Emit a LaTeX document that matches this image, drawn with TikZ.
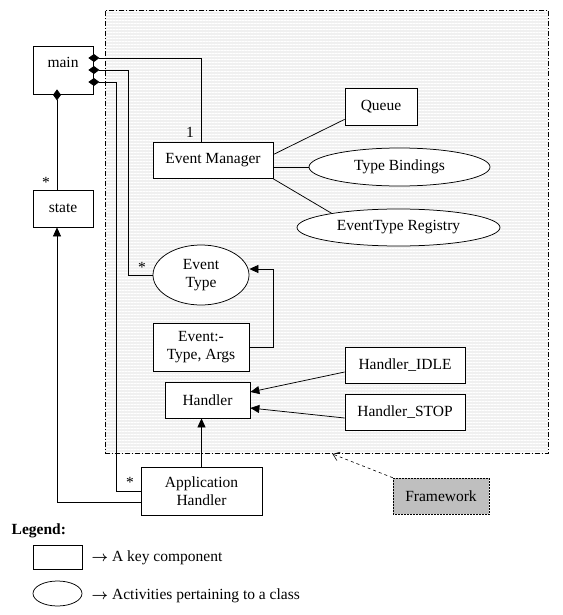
\documentclass[tikz,border=0pt]{standalone}
\usepackage{amsmath}
\usepackage{fontspec}
\setmainfont{Liberation Serif}
\usetikzlibrary{arrows.meta,patterns.meta,shapes.geometric}

\begin{document}
\begin{tikzpicture}[x=1pt, y=-1pt, line width=0.75pt, every node/.style={font=\fontsize{15.5}{18}\selectfont},
    box/.style={draw, fill=white, inner sep=2pt, align=center},
    oval/.style={draw, ellipse, fill=white, inner sep=0pt, align=center},
    tri/.style={-{Triangle[length=9pt,width=8pt]}},
    dia/.style={{Diamond[length=11pt,width=8pt]}-}]
    \useasboundingbox (0,0) rectangle (562,615);

    % Framework region
    \node[draw, line width=0.6pt, dash pattern=on 5pt off 2pt on 1pt off 2pt, preaction={fill=gray!12},
          pattern={Lines[angle=0,distance=3pt,line width=1pt]}, pattern color=white,
          minimum width=443pt, minimum height=443pt, inner sep=0pt] (frame) at (326.5,232) {};

    % Components
    \node[box, minimum width=60pt, minimum height=48pt] (main) at (63,70) {\raisebox{16pt}{main}};
    \node[box, minimum width=60pt, minimum height=37pt] (state) at (63,208.5) {state};
    \node[box, minimum width=120pt, minimum height=36pt] (EM) at (213,160.5) {Event Manager};
    \node[box, minimum width=72pt, minimum height=37pt] (Q) at (381,106.5) {Queue};
    \node[oval, minimum width=181pt, minimum height=38pt] (TB) at (399.5,167) {Type Bindings};
    \node[oval, minimum width=203pt, minimum height=37pt] (ETR) at (398.5,227.5) {EventType Registry};
    \node[oval, minimum width=96pt, minimum height=60pt] (ET) at (201,275) {Event\\Type};
    \node[box, minimum width=96pt, minimum height=48pt] (EV) at (201,347) {Event:-\\Type, Args};
    \node[box, minimum width=85pt, minimum height=36pt] (H) at (207.5,400) {Handler};
    \node[box, minimum width=120pt, minimum height=36pt] (HI) at (405,365) {Handler\_IDLE};
    \node[box, minimum width=120pt, minimum height=36pt] (HS) at (405,412) {Handler\_STOP};
    \node[box, minimum width=121pt, minimum height=48pt] (AH) at (201.5,491) {Application\\Handler};
    \node[draw, densely dotted, line width=0.5pt, fill=gray!50, minimum width=96pt, minimum height=36pt] (FW) at (441,496) {Framework};

    % Aggregations from main
    \draw[dia] ([xshift=-5pt,yshift=12pt]main.east) -| ([xshift=-12pt]EM.north);
    \draw[dia] ([xshift=-5pt]main.east) -- ++(40,0) |- (ET.west);
    \draw[dia] ([xshift=-5pt,yshift=-12pt]main.east) -- ++(28,0) |- (AH.west);
    \draw[dia] ([xshift=-6pt,yshift=5pt]main.south) -- ([xshift=-6pt]state.north);

    % Multiplicities
    \node (m1) at (190,132) {1};
    \node (m2) at (142,267) {*};
    \node (m3) at (130,482) {*};
    \node (m4) at (46,182) {*};

    % Event Manager parts
    \draw ([yshift=6pt]EM.east) -- ([yshift=6pt]Q.south west);
    \draw (EM.east |- TB.west) -- (TB.west);
    \draw (EM.south east) -- (ETR.168);

    % Generalisations
    \draw[tri] (EV.east) -- ++(24,0) |- ([yshift=6pt]ET.east);
    \draw[tri] ([yshift=-7pt]HI.west) -- ([yshift=8pt]H.east);
    \draw[tri] ([yshift=-6pt]HS.west) -- ([yshift=-8pt]H.east);
    \draw[tri] (AH.north) -- (AH.north |- H.south);
    \draw[tri] ([yshift=-11pt]AH.west) -| ([xshift=-6pt]state.south);

    \draw[dashed, line width=0.6pt, -{Straight Barb[length=6pt,width=9pt]}] (FW.north west) -- ([xshift=6pt]frame.south);

    % Legend
    \node[font=\fontsize{15.5}{18}\selectfont\bfseries, anchor=west] (leg) at (8,531) {Legend:};
    \node[draw, minimum width=49pt, minimum height=24pt] (legbox) at (57.5,557) {};
    \node[draw, ellipse, minimum width=49pt, minimum height=25pt] (legoval) at (57.5,593.5) {};
    \node[anchor=west] (legtxt1) at (88,558) {$\boldsymbol{\rightarrow}$ A key component};
    \node[anchor=west] (legtxt2) at (88,596) {$\boldsymbol{\rightarrow}$ Activities pertaining to a class};
\end{tikzpicture}
\end{document}
